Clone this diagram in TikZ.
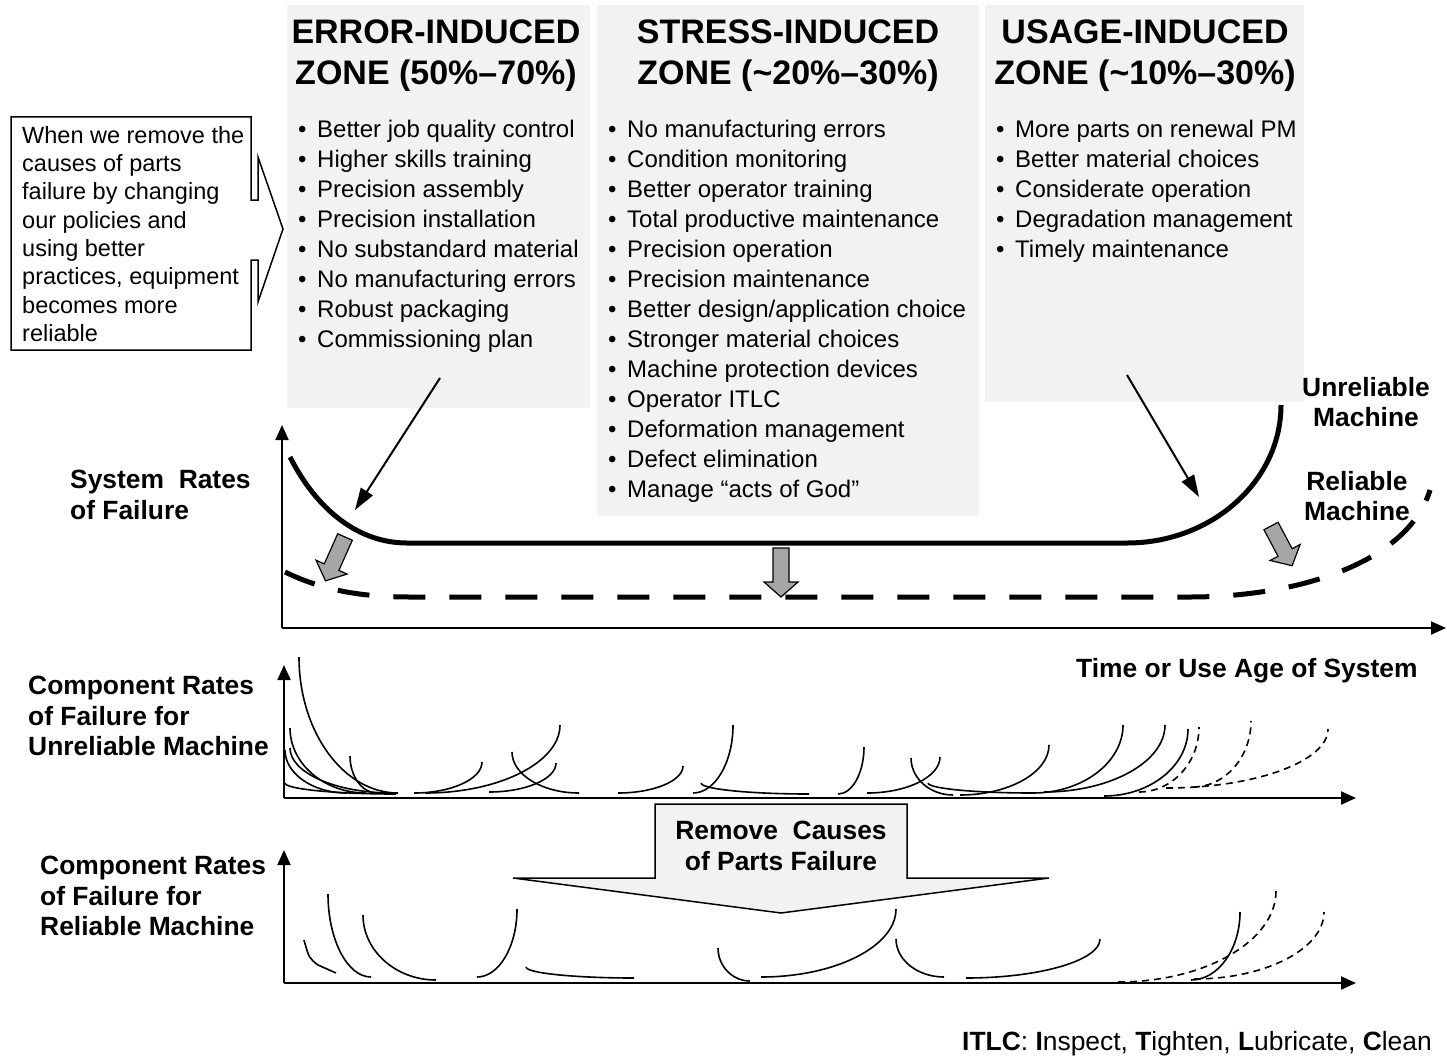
\documentclass[tikz,border=0pt]{standalone}
\usepackage{fontspec}
\setmainfont{Liberation Sans}
\usetikzlibrary{arrows.meta}
\definecolor{zonegray}{RGB}{242,242,242}
\definecolor{arrowgray}{RGB}{166,166,166}
% block arrow: start x, start y, angle, length
\newcommand{\grayarrow}[4]{%
  \begin{scope}[shift={(#1,#2)},rotate=#3]
    \draw[line width=1.2pt,fill=arrowgray] (0,-8) -- ({#4-15},-8) -- ({#4-15},-17)
      -- (#4,0) -- ({#4-15},17) -- ({#4-15},8) -- (0,8) -- cycle;
  \end{scope}}

\begin{document}
\begin{tikzpicture}[x=1pt,y=-1pt,
  zone/.style={fill=zonegray},
  head/.style={font=\fontsize{34}{41}\selectfont\bfseries,align=center,inner sep=0},
  item/.style={font=\fontsize{24}{30}\selectfont,anchor=base west,inner sep=0},
  lbl/.style={font=\fontsize{26.4}{30.5}\selectfont\bfseries,inner sep=0},
  axis/.style={line width=2pt,-{Triangle[length=15pt,width=13pt]}},
  fat/.style={line width=5pt},
  comp/.style={line width=1.6pt},
  compdash/.style={comp,dash pattern=on 7pt off 5pt},
  pointer/.style={line width=2pt,-{Triangle[length=22pt,width=14pt]}}]
  \useasboundingbox (0,0) rectangle (1447,1062);

  % zones
  \fill[zone] (287,5) rectangle (590,408);
  \fill[zone] (597,5) rectangle (979,516);
  \fill[zone] (985,5) rectangle (1304,402);
  \node[head] (head-err) at (436,56) {ERROR-INDUCED\\ZONE (50\%\textendash70\%)};
  \node[head] (head-str) at (788,56) {STRESS-INDUCED\\ZONE (\textasciitilde20\%\textendash30\%)};
  \node[head] (head-use) at (1145,56) {USAGE-INDUCED\\ZONE (\textasciitilde10\%\textendash30\%)};

  \foreach \t [count=\i] in {Better job quality control, Higher skills training,
      Precision assembly, Precision installation, No substandard material,
      No manufacturing errors, Robust packaging, Commissioning plan}
    \node[item] (err-\i) at (298,{137+30*(\i-1)}) {\makebox[19pt][l]{\textbullet}\t};
  \foreach \t [count=\i] in {No manufacturing errors, Condition monitoring,
      Better operator training, Total productive maintenance, Precision operation,
      Precision maintenance, Better design/application choice,
      Stronger material choices, Machine protection devices, Operator ITLC,
      Deformation management, Defect elimination, Manage “acts of God”}
    \node[item] (str-\i) at (608,{137+30*(\i-1)}) {\makebox[19pt][l]{\textbullet}\t};
  \foreach \t [count=\i] in {More parts on renewal PM, Better material choices,
      Considerate operation, Degradation management, Timely maintenance}
    \node[item] (use-\i) at (996,{137+30*(\i-1)}) {\makebox[19pt][l]{\textbullet}\t};

  % callout on the left
  \draw[line width=1.5pt,fill=white] (11,117) -- (251,117) -- (251,200) -- (258,200)
    -- (258,157) -- (283,229) -- (258,302) -- (258,260) -- (251,260) -- (251,350)
    -- (11,350) -- cycle;
  \node[font=\fontsize{23.5}{28.3}\selectfont,align=left,anchor=north west,inner sep=0]
    (note) at (22,126) {When we remove the\\causes of parts\\failure by changing\\our policies and\\using better\\practices, equipment\\becomes more\\reliable};

  % system rates
  \draw[axis] (282,628) -- (282,425);
  \draw[axis] (282,628) -- (1446,628);
  \draw[fat] (290,457) .. controls (318,512) and (360,543) .. (407,543) -- (1127,543)
    .. controls (1212,543) and (1281,481) .. (1281,405);
  \draw[fat,dash pattern=on 32pt off 24pt] (285,572) .. controls (322,590) and (360,597) .. (410,597)
    -- (1190,597) .. controls (1300,597) and (1408,562) .. (1430,490);
  \grayarrow{345}{537}{-114}{48}
  \grayarrow{781}{548}{-90}{49}
  \grayarrow{1271}{526}{-62}{45}
  \coordinate (err-tail) at (440,378);
  \coordinate (err-tip) at (355,510);
  \coordinate (use-tail) at (1127,375);
  \coordinate (use-tip) at (1199,497);
  \draw[pointer] (err-tail) -- (err-tip);
  \draw[pointer] (use-tail) -- (use-tip);
  \node[lbl,align=left,anchor=north west] (sys-lbl) at (70,470) {System\ \ Rates\\of Failure};
  \node[lbl,align=center,anchor=north] (unrel-mach) at (1366,377) {Unreliable\\Machine};
  \node[lbl,align=center,anchor=north] (rel-mach) at (1357,471) {Reliable\\Machine};
  \node[lbl,anchor=north west] (time-lbl) at (1076,658) {Time or Use Age of System};

  % component rates, unreliable machine
  \draw[axis] (284,798) -- (284,665);
  \draw[axis] (284,798) -- (1356,798);
  \foreach \xa/\ya/\xb/\yb in {299/657/398/793, 290/728/366/793, 290/748/392/793,
      285/750/347/793, 285/783/396/794, 350/756/377/793, 512/752/579/793,
      701/783/809/794, 911/758/953/795, 928/783/1033/793}
    \draw[comp] (\xa,\ya) .. controls (\xa,{\ya+0.55*(\yb-\ya)}) and ({\xb-0.55*(\xb-\xa)},\yb) .. (\xb,\yb);
  \foreach \xa/\ya/\xb/\yb in {414/793/482/762, 425/793/560/725, 489/792/556/763,
      618/793/683/766, 693/793/733/725, 838/794/864/747, 867/793/940/757,
      960/795/1049/745, 1033/793/1123/725, 1044/792/1165/725, 1104/796/1188/729}
    \draw[comp] (\xa,\ya) .. controls ({\xa+0.55*(\xb-\xa)},\ya) and (\xb,{\yb+0.55*(\ya-\yb)}) .. (\xb,\yb);
  \foreach \xa/\ya/\xb/\yb in {1139/792/1199/727, 1193/787/1251/721, 1166/788/1328/729}
    \draw[compdash] (\xa,\ya) .. controls ({\xa+0.55*(\xb-\xa)},\ya) and (\xb,{\yb+0.55*(\ya-\yb)}) .. (\xb,\yb);
  \node[lbl,align=left,anchor=north west] (unrel-lbl) at (28,676) {Component Rates\\of Failure for\\Unreliable Machine};

  % remove causes
  \draw[line width=1.5pt,fill=zonegray] (655,878) -- (655,804) -- (907,804) -- (907,878)
    -- (1049,878) -- (781,913) -- (513,878) -- cycle;
  \node[lbl,align=center,anchor=north] (remove) at (781,821) {Remove\ \ Causes\\of Parts Failure};

  % component rates, reliable machine
  \draw[axis] (284,983) -- (284,850);
  \draw[axis] (284,983) -- (1356,983);
  \draw[comp] (304,940) .. controls (309,958) .. (318,965) -- (336,973);
  \foreach \xa/\ya/\xb/\yb in {328/894/371/977, 363/915/436/980, 526/967/634/978,
      718/948/750/981, 896/939/944/977}
    \draw[comp] (\xa,\ya) .. controls (\xa,{\ya+0.55*(\yb-\ya)}) and ({\xb-0.55*(\xb-\xa)},\yb) .. (\xb,\yb);
  \foreach \xa/\ya/\xb/\yb in {477/977/517/909, 761/977/896/909, 966/978/1100/939,
      1191/980/1240/912}
    \draw[comp] (\xa,\ya) .. controls ({\xa+0.55*(\xb-\xa)},\ya) and (\xb,{\yb+0.55*(\ya-\yb)}) .. (\xb,\yb);
  \foreach \xa/\ya/\xb/\yb in {1118/982/1276/891, 1194/979/1324/912}
    \draw[compdash] (\xa,\ya) .. controls ({\xa+0.55*(\xb-\xa)},\ya) and (\xb,{\yb+0.55*(\ya-\yb)}) .. (\xb,\yb);
  \node[lbl,align=left,anchor=north west] (rel-lbl) at (40,856) {Component Rates\\of Failure for\\Reliable Machine};

  \node[font=\fontsize{26.4}{30}\selectfont,anchor=north west,inner sep=0] (itlc) at (962,1031)
    {\textbf{ITLC}: \textbf{I}nspect, \textbf{T}ighten, \textbf{L}ubricate, \textbf{C}lean};
\end{tikzpicture}
\end{document}
